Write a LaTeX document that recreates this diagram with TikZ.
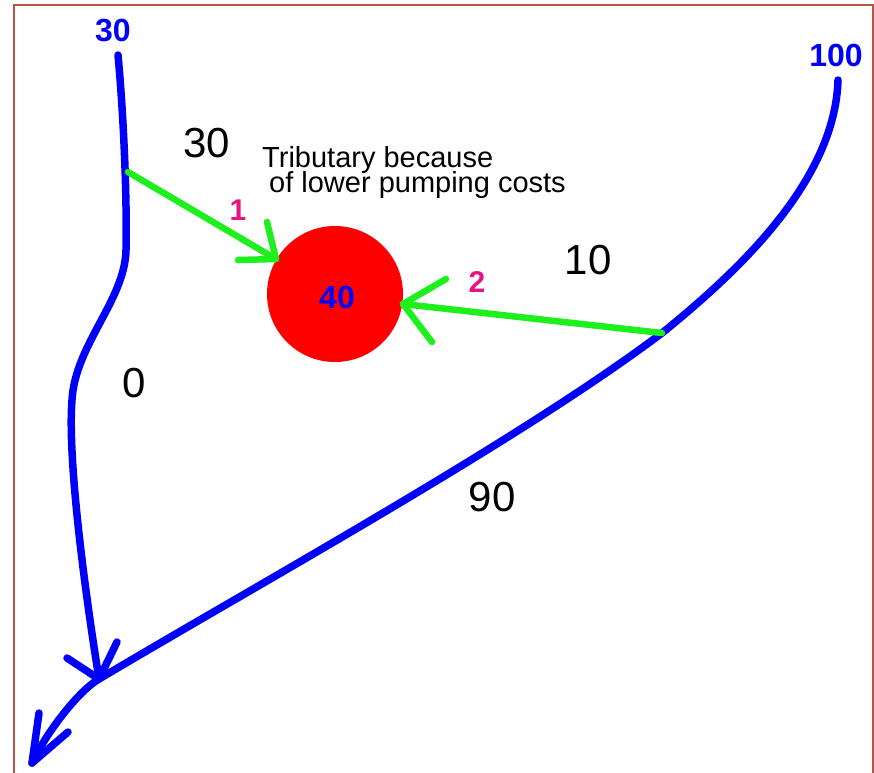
\documentclass[tikz,border=0pt]{standalone}
\usepackage{fontspec}
\setmainfont{Liberation Sans}
\definecolor{riverblue}{RGB}{0,0,250}
\definecolor{flowgreen}{RGB}{30,240,30}
\definecolor{pinklbl}{RGB}{230,20,130}
\definecolor{cityred}{RGB}{255,0,0}
\definecolor{framecol}{RGB}{180,85,70}
\newcommand{\twolines}[2]{\vbox{\lineskiplimit=-60pt\baselineskip=25pt\hbox{#1}\hbox{#2}}}
\begin{document}
\begin{tikzpicture}[x=1pt,y=-1pt,
  river/.style={draw=riverblue, line width=7.5pt, line cap=round, line join=round},
  flow/.style={draw=flowgreen, line width=6.5pt, line cap=round, line join=round},
  bignum/.style={font=\fontsize{42}{42}\selectfont, inner sep=0pt, text=black},
  bluenum/.style={font=\bfseries\fontsize{32}{32}\selectfont, inner sep=0pt, text=riverblue},
  pinknum/.style={font=\bfseries\fontsize{30}{30}\selectfont, inner sep=0pt, text=pinklbl},
  note/.style={font=\fontsize{29}{25}\selectfont, inner sep=0pt, anchor=north west},
  citystyle/.style={circle, fill=cityred, minimum size=136pt, inner sep=0pt}]
\useasboundingbox (0,0) rectangle (874,772);
\fill[white] (0,0) rectangle (874,772);
% frame
\coordinate (fbl) at (14,780);
\coordinate (ftl) at (14,5);
\coordinate (ftr) at (873,5);
\coordinate (fbr) at (873,780);
\draw[framecol, line width=2pt] (fbl) -- (ftl) -- (ftr) -- (fbr);

% key points
\coordinate (src30) at (118,55);
\coordinate (t1) at (128,172);
\coordinate (bendA) at (126,250);
\coordinate (bendB) at (72,400);
\coordinate (conf) at (99,679);
\coordinate (src100) at (838,80);
\coordinate (t2) at (662,333);
\coordinate (mouth) at (32,763);

% city
\node[citystyle] (city) at (335,294) {};
\node[bluenum] (lbl40) at (337,297) {40};

% left river
\draw[river] (src30) .. controls (124,120) and (127,200) .. (bendA)
  .. controls (125,300) and (75,345) .. (bendB)
  .. controls (68,450) and (80,560) .. (conf);
\coordinate (ha1) at (67,658);
\coordinate (ha2) at (117,642);
\draw[river] (ha1) -- (conf) -- (ha2);

% right river
\draw[river] (src100) .. controls (835,180) and (740,270) .. (t2)
  .. controls (520,440) and (262,582) .. (conf)
  .. controls (77,692) and (45,735) .. (mouth);
\coordinate (hb1) at (39,713);
\coordinate (hb2) at (68,732);
\draw[river] (hb1) -- (mouth) -- (hb2);

% green arrows
\coordinate (tip1) at (276,259);
\coordinate (hc1) at (238,260);
\coordinate (hc2) at (267,222);
\draw[flow] (t1) -- (tip1);
\draw[flow] (hc1) -- (tip1) -- (hc2);
\coordinate (tip2) at (403,304);
\coordinate (hd1) at (446,279);
\coordinate (hd2) at (432,342);
\draw[flow] (t2) -- (tip2);
\draw[flow] (hd1) -- (tip2) -- (hd2);

% labels
\node[bluenum] (lbl30top) at (113,31) {30};
\node[bluenum] (lbl100) at (836,55) {100};
\node[bignum] (lbl30) at (207,143) {30};
\node[bignum] (lbl10) at (588,260) {10};
\node[bignum] (lbl0) at (134,383) {0};
\node[bignum] (lbl90) at (492,497) {90};
\node[pinknum] (lbl1) at (238,210) {1};
\node[pinknum] (lbl2) at (477,282) {2};
\node[note] (trib) at (262,146) {\twolines{Tributary because}{\hspace*{7pt}of lower pumping costs}};
\end{tikzpicture}
\end{document}
